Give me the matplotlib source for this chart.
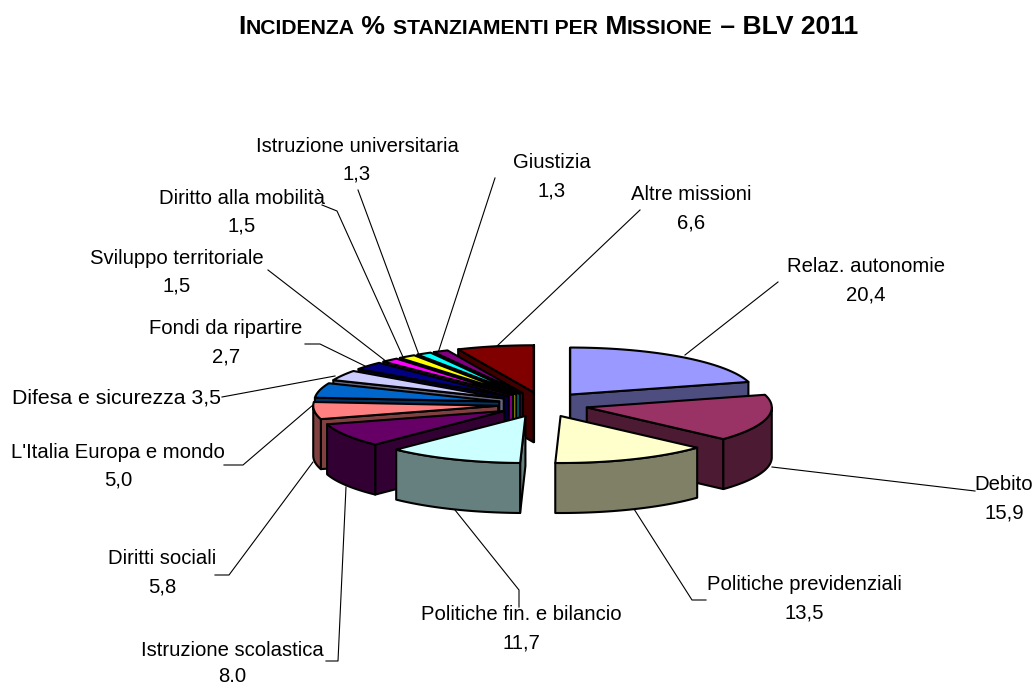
import numpy as np
import matplotlib
matplotlib.use("Agg")
import matplotlib.pyplot as plt
from matplotlib.patches import Polygon

plt.rcParams['font.family'] = ['Liberation Sans', 'DejaVu Sans']

categories = ["Relaz. autonomie", "Debito", "Politiche previdenziali", "Politiche fin. e bilancio",
              "Istruzione scolastica", "Diritti sociali", "L'Italia Europa e mondo", "Difesa e sicurezza",
              "Fondi da ripartire", "Sviluppo territoriale", "Diritto alla mobilità",
              "Istruzione universitaria", "Giustizia", "Altre missioni"]
values = [20.4, 15.9, 13.5, 11.7, 8.0, 5.8, 5.0, 3.5, 2.7, 1.5, 1.5, 1.3, 1.3, 6.6]
value_labels = ["20,4", "15,9", "13,5", "11,7", "8.0", "5,8", "5,0", "3,5", "2,7", "1,5", "1,5", "1,3", "1,3", "6,6"]
top_colors = ["#9999FF", "#993366", "#FFFFCC", "#CCFFFF", "#660066", "#FF8080", "#0066CC", "#CCCCFF",
              "#000080", "#FF00FF", "#FFFF00", "#00FFFF", "#800080", "#800000"]
side_colors = ["#4D4D80", "#4D1A33", "#808066", "#668080", "#330033", "#804040", "#003366", "#666680",
               "#000040", "#800080", "#808000", "#008080", "#400040", "#400000"]

W, H = 1034, 686
CX, CY, RX, RY = 543, 404.5, 185, 47
EXPLODE_X, EXPLODE_Y, DEPTH = 45, 12.5, 50

fig = plt.figure(figsize=(W / 100, H / 100), dpi=100, facecolor="white")
ax = fig.add_axes([0, 0, 1, 1])
ax.set_xlim(0, W)
ax.set_ylim(H, 0)
ax.axis("off")


def ell(a):
    a = np.radians(a)
    return np.column_stack([RX * np.sin(a), -RY * np.cos(a)])


shares = np.array(values) / np.sum(values) * 360
ends = np.cumsum(shares)
starts = ends - shares
mids = (starts + ends) / 2
order = np.argsort(-np.cos(np.radians(mids)) + 0)
EDGE = dict(edgecolor="black", linewidth=1.5, joinstyle="round")
down = np.array([0, DEPTH])

for i in order:
    m = np.radians(mids[i])
    apex = np.array([CX + EXPLODE_X * np.sin(m), CY - EXPLODE_Y * np.cos(m)])
    a1, a2 = starts[i], ends[i]
    arc = apex + ell(np.linspace(a1, a2, 60))
    z = 2 + 0.01 * list(order).index(i)
    if np.sin(np.radians(a1)) < 0.02:
        q = np.array([apex, arc[0], arc[0] + down, apex + down])
        ax.add_patch(Polygon(q, facecolor=side_colors[i], zorder=z, **EDGE))
    if np.sin(np.radians(a2)) > -0.02:
        q = np.array([apex, arc[-1], arc[-1] + down, apex + down])
        ax.add_patch(Polygon(q, facecolor=side_colors[i], zorder=z, **EDGE))
    lo, hi = max(a1, 90), min(a2, 270)
    if hi > lo:
        front = apex + ell(np.linspace(lo, hi, 60))
        q = np.vstack([front, front[::-1] + down])
        ax.add_patch(Polygon(q, facecolor=side_colors[i], zorder=z, **EDGE))
    ax.add_patch(Polygon(np.vstack([apex, arc]), facecolor=top_colors[i], zorder=z, **EDGE))

FS = 14.6
label_pos = [(866, 281), (1004, 499), (804, 599), (521, 629), (232, 665), (162, 573), (118, 466), None,
             (226, 343), (177, 272), (242, 212), (357, 160), (552, 177), (691, 209)]
for i, p in enumerate(label_pos):
    if p is None:
        continue
    value_dy = 11 if p[1] + 14 > 670 else 14
    ax.text(p[0], p[1] - 14, categories[i], fontsize=FS, ha="center", va="center", color="black", zorder=5)
    ax.text(p[0], p[1] + value_dy, value_labels[i], fontsize=FS, ha="center", va="center", color="black", zorder=5)
ax.text(117, 398, f"{categories[7]} {value_labels[7]}", fontsize=15.3, ha="center", va="center", zorder=5)

leaders = [[(778, 282), (685, 355)], [(975, 491), (772, 467)], [(706, 600), (692, 600), (634, 509)],
           [(519, 607), (519, 590), (455, 510)], [(326, 661), (338, 661), (346, 487)],
           [(215, 575), (229, 575), (313, 462)], [(224, 465), (243, 465), (313, 405)],
           [(222, 397), (335, 376)], [(305, 344), (320, 344), (365, 366)], [(268, 270), (387, 362)],
           [(322, 205), (337, 211), (403, 357)], [(358, 190), (419, 355)], [(495, 178), (438, 353)],
           [(640, 210), (496, 347)]]
for seg in leaders:
    xs, ys = zip(*seg)
    ax.plot(xs, ys, color="black", lw=0.8, zorder=1)

# small-caps title assembled from runs
runs = [("I", 1), ("NCIDENZA", .8), (" % ", 1), ("STANZIAMENTI PER", .8), (" M", 1), ("ISSIONE", .8), (" – BLV 2011", 1)]
fig.canvas.draw()
r = fig.canvas.get_renderer()
x = 238.0
T = 14.2 * 620 / 462
for s, k in runs:
    t = ax.text(x, 34, s.replace(" ", "\u00a0"), fontsize=T * k, fontweight="bold", ha="left", va="baseline", zorder=5)
    bb = t.get_window_extent(r)
    x += bb.width
fig.savefig("out.png", dpi=100)
